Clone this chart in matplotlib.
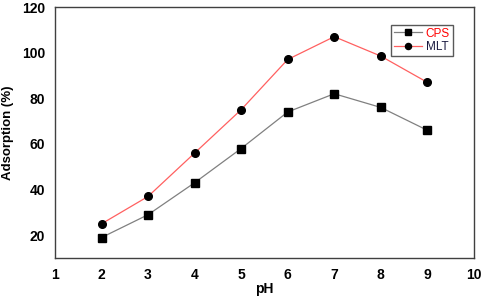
import matplotlib.pyplot as plt

ph = [2, 3, 4, 5, 6, 7, 8, 9]
cps = [19, 29, 43, 58, 74, 82, 76, 66]
mlt = [25, 37, 56, 75, 97, 107, 98.5, 87]

plt.rcParams['font.family'] = ['Liberation Sans', 'DejaVu Sans']

fig = plt.figure(figsize=(4.84, 2.98), dpi=100)
ax = fig.add_axes([0.1136, 0.134, 0.8654, 0.8425])

ax.plot(ph, cps, color='#808080', lw=0.9, marker='s', ms=5.5, mfc='black', mec='black', label='CPS')
ax.plot(ph, mlt, color='#ff6060', lw=0.9, marker='o', ms=5.5, mfc='black', mec='black', label='MLT')

ax.set_xlim(1, 10)
ax.set_ylim(10, 120)
ax.set_xticks(range(1, 11))
ax.set_yticks([20, 40, 60, 80, 100, 120])
ax.tick_params(length=0, labelsize=10, pad=7)
for lab in ax.get_xticklabels() + ax.get_yticklabels():
    lab.set_fontweight('bold')
ax.set_xlabel('pH', fontsize=10, fontweight='bold', labelpad=0)
ax.set_ylabel('Adsorption (%)', fontsize=9.5, fontweight='bold', labelpad=6)
for s in ax.spines.values():
    s.set_color('#404040')
    s.set_linewidth(1.0)

leg = ax.legend(loc='upper right', bbox_to_anchor=(0.95, 0.93), fontsize=8.5, frameon=True,
                fancybox=False, edgecolor='#303030', handlelength=2.4, borderpad=0.25,
                labelspacing=0.15, handletextpad=0.3, borderaxespad=0, markerscale=0.8)
leg.get_frame().set_linewidth(1.0)
leg.get_texts()[0].set_color('red')
leg.get_texts()[1].set_color('#1a1a40')

fig.savefig('out.png', dpi=100)
